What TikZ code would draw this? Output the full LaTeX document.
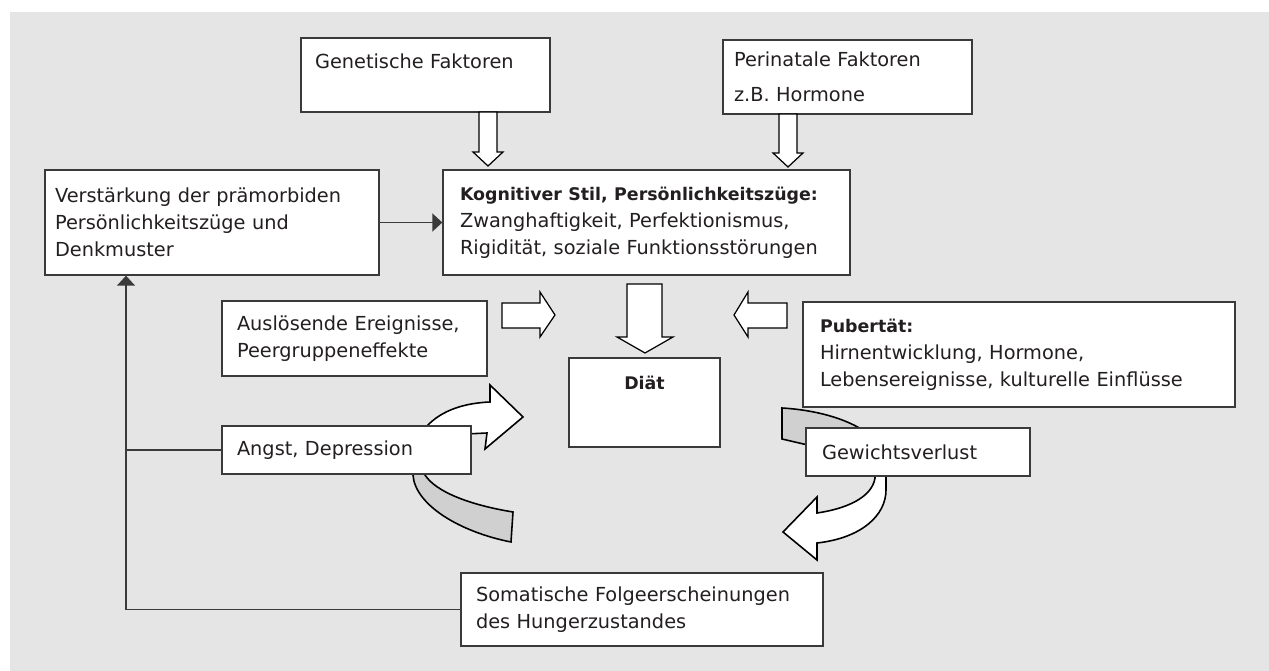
\documentclass[tikz,border=0pt]{standalone}
\usepackage{fontspec}
\setmainfont{DejaVu Sans}
\usepackage{tikz}
\usetikzlibrary{arrows.meta, positioning, calc}
\definecolor{bggray}{RGB}{229,229,229}
\definecolor{boxline}{RGB}{58,58,58}
\definecolor{txtdark}{RGB}{35,31,32}
\definecolor{bandgray}{RGB}{208,208,208}
\newcommand{\hdrfont}{\fontsize{9.9}{15.4}\selectfont\bfseries}
\tikzset{
  box/.style={rectangle, draw=boxline, fill=white, line width=0.8pt,
    inner sep=0pt, align=left, text=txtdark,
    font=\fontsize{11}{15.4}\selectfont},
  blockarr/.style={draw=black, fill=white, line width=0.7pt, line join=miter},
  band/.style={draw=black, fill=bandgray, line width=0.9pt},
  curvarr/.style={draw=black, fill=white, line width=0.9pt, line join=miter},
  conn/.style={-{Triangle[length=0.2cm, width=0.36cm]}, line width=0.8pt, color=boxline},
  line/.style={line width=0.8pt, color=boxline}
}

\begin{document}
\begin{tikzpicture}[x=0.02cm, y=-0.02cm]
% background
\fill[white] (0,0) rectangle (1269,671);
\fill[bggray] (10,12) rectangle (1269,671);

\coordinate (fbx) at (126,0);

% curved arrows, back parts
\draw[band] (413,465) -- (413,475) .. controls (415,505) and (460,532) .. (511,542)
  -- (513,512) .. controls (470,505) and (436,492) .. (425,475) -- (425,465) -- cycle;
\draw[band] (782,408) .. controls (815,410) and (845,418) .. (866,432)
  -- (866,446) -- (812,446) -- (782,439) -- cycle;

% curved arrows, front parts
\draw[curvarr] (430,440) -- (427,426) .. controls (442,410) and (465,403) .. (490,402)
  -- (490,385) -- (523,417) -- (485,449) -- (487,433) -- (466,434) -- cycle;
\draw[curvarr] (875,470) -- (875,478) .. controls (872,498) and (845,509) .. (817,513)
  -- (817,497) -- (783,532) -- (817,560) -- (817,543)
  .. controls (862,538) and (886,515) .. (886,490) -- (886,470) -- cycle;

% boxes
\node[box, minimum width=4.98cm, text width=4.42cm, text height=0.62cm, text depth=0.86cm] (gen) at (425.5,75)
  {Genetische Faktoren};
\node[box, minimum width=4.98cm, text width=4.54cm, text height=0.54cm, text depth=0.94cm,
  font=\fontsize{11}{19.9}\selectfont] (peri) at (847.5,77)
  {Perinatale Faktoren\\z.B. Hormone};
\node[box, minimum width=6.68cm, minimum height=2.1cm, text width=6.28cm] (verst) at (212,222.5)
  {Verstärkung der prämorbiden\\Persönlichkeitszüge und\\Denkmuster};
\node[box, minimum width=8.14cm, minimum height=2.1cm, text width=7.46cm] (kog) at (646.5,222.5)
  {{\hdrfont Kognitiver Stil, Persönlichkeitszüge:}\\Zwanghaftigkeit, Perfektionismus,\\Rigidität, soziale Funktionsstörungen};
\node[box, minimum width=5.3cm, minimum height=1.5cm, text width=4.7cm] (ausl) at (354.5,338.5)
  {Auslösende Ereignisse,\\Peergruppeneffekte};
\node[box, minimum width=8.64cm, minimum height=2.1cm, text width=7.96cm] (pub) at (1019,354.5)
  {{\hdrfont Pubertät:}\\Hirnentwicklung, Hormone,\\Lebensereignisse, kulturelle Einflüsse};
\node[box, align=center, minimum width=3.02cm, text height=0.63cm, text depth=1.15cm] (diat) at (644.5,402.5)
  {\hdrfont Diät};
\node[box, minimum width=4.98cm, minimum height=0.96cm, text width=4.38cm] (angst) at (346.5,450)
  {Angst, Depression};
\node[box, minimum width=4.48cm, minimum height=0.96cm, text width=3.84cm] (gew) at (918,452)
  {Gewichtsverlust};
\node[box, minimum width=7.24cm, minimum height=1.46cm, text width=6.64cm] (soma) at (642,609.5)
  {Somatische Folgeerscheinungen\\des Hungerzustandes};

% block arrows
\draw[blockarr] (479,112) -- (497,112) -- (497,152) -- (503,152) -- (488,166)
  -- (473,152) -- (479,152) -- cycle;
\draw[blockarr] (779,114) -- (797,114) -- (797,153) -- (803,153) -- (788,167)
  -- (773,153) -- (779,153) -- cycle;
\draw[blockarr] (627,284) -- (662,284) -- (662,337) -- (673,337) -- (645,353)
  -- (617,337) -- (627,337) -- cycle;
\draw[blockarr] (502,303) -- (540,303) -- (540,292) -- (555,315) -- (540,337)
  -- (540,328) -- (502,328) -- cycle;
\draw[blockarr] (787,303) -- (748,303) -- (748,292) -- (734,315) -- (748,337)
  -- (748,328) -- (787,328) -- cycle;

% connectors
\draw[conn] (verst) -- (kog);
\draw[line] (angst.west) -- (angst.west -| fbx);
\draw[conn] (soma.west) -| (verst.south -| fbx);
\end{tikzpicture}
\end{document}
